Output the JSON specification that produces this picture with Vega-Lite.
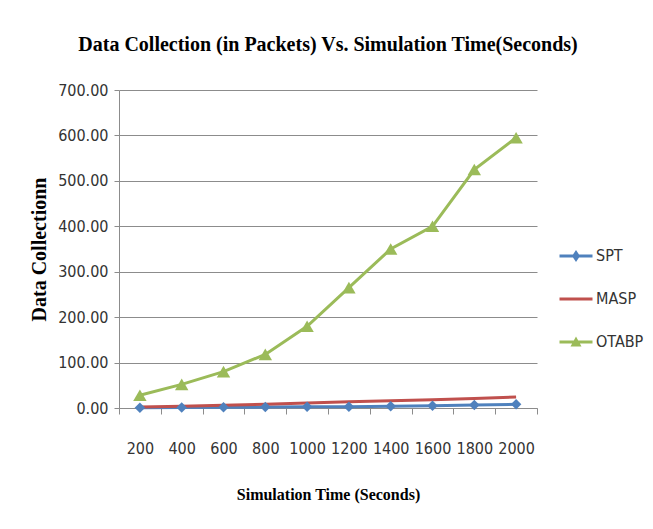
{
  "$schema": "https://vega.github.io/schema/vega-lite/v6.json",
  "width": 418,
  "height": 318,
  "autosize": "none",
  "padding": {"left": 119, "top": 90, "right": 116, "bottom": 121},
  "background": "white",
  "title": {
    "text": "Data Collection (in Packets) Vs. Simulation Time(Seconds)",
    "font": "Liberation Serif",
    "fontSize": 20,
    "fontWeight": "bold",
    "color": "black",
    "anchor": "middle",
    "offset": 27
  },
  "data": {
    "values": [
      {"time": 200, "series": "SPT", "value": 0.5},
      {"time": 400, "series": "SPT", "value": 1},
      {"time": 600, "series": "SPT", "value": 1.5},
      {"time": 800, "series": "SPT", "value": 2},
      {"time": 1000, "series": "SPT", "value": 2.5},
      {"time": 1200, "series": "SPT", "value": 3},
      {"time": 1400, "series": "SPT", "value": 4},
      {"time": 1600, "series": "SPT", "value": 5},
      {"time": 1800, "series": "SPT", "value": 6.5},
      {"time": 2000, "series": "SPT", "value": 8},
      {"time": 200, "series": "MASP", "value": 2},
      {"time": 400, "series": "MASP", "value": 4},
      {"time": 600, "series": "MASP", "value": 6},
      {"time": 800, "series": "MASP", "value": 8.5},
      {"time": 1000, "series": "MASP", "value": 11},
      {"time": 1200, "series": "MASP", "value": 14},
      {"time": 1400, "series": "MASP", "value": 16},
      {"time": 1600, "series": "MASP", "value": 18},
      {"time": 1800, "series": "MASP", "value": 21},
      {"time": 2000, "series": "MASP", "value": 24},
      {"time": 200, "series": "OTABP", "value": 28},
      {"time": 400, "series": "OTABP", "value": 52},
      {"time": 600, "series": "OTABP", "value": 80},
      {"time": 800, "series": "OTABP", "value": 118},
      {"time": 1000, "series": "OTABP", "value": 180},
      {"time": 1200, "series": "OTABP", "value": 265},
      {"time": 1400, "series": "OTABP", "value": 350},
      {"time": 1600, "series": "OTABP", "value": 400},
      {"time": 1800, "series": "OTABP", "value": 525},
      {"time": 2000, "series": "OTABP", "value": 595}
    ]
  },
  "config": {
    "view": {"stroke": null},
    "axis": {
      "labelFont": "DejaVu Sans Condensed, Liberation Sans Narrow, sans-serif",
      "labelFontSize": 16,
      "labelColor": "#333333",
      "domainColor": "#8c8c8c",
      "tickColor": "#8c8c8c",
      "gridColor": "#8c8c8c",
      "titleFont": "Liberation Serif",
      "titleFontWeight": "bold",
      "titleFontSize": 16,
      "titleColor": "black"
    },
    "legend": {
      "orient": "none",
      "legendX": 447,
      "legendY": 156,
      "title": null,
      "labelFont": "DejaVu Sans Condensed, Liberation Sans Narrow, sans-serif",
      "labelFontSize": 16,
      "labelColor": "#333333",
      "symbolSize": 400,
      "symbolStrokeWidth": 0,
      "rowPadding": 25,
      "labelOffset": 10
    }
  },
  "encoding": {
    "x": {
      "field": "time",
      "type": "ordinal",
      "bandPosition": 0.5,
      "scale": {"type": "band", "paddingInner": 0, "paddingOuter": 0},
      "axis": {
        "title": "Simulation Time (Seconds)",
        "labelAngle": 0,
        "tickBand": "extent",
        "tickSize": 6,
        "labelPadding": 26,
        "titlePadding": 30,
        "grid": false
      }
    },
    "y": {
      "field": "value",
      "type": "quantitative",
      "scale": {"domain": [0, 700]},
      "axis": {
        "title": "Data Collectionn",
        "values": [0, 100, 200, 300, 400, 500, 600, 700],
        "format": ".2f",
        "tickSize": 5,
        "labelPadding": 6,
        "titlePadding": 8,
        "titleFontSize": 20,
        "grid": true
      }
    },
    "color": {
      "field": "series",
      "type": "nominal",
      "scale": {
        "domain": ["SPT", "MASP", "OTABP"],
        "range": ["#4F81BD", "#C0504D", "#9BBB59"]
      }
    }
  },
  "layer": [
    {
      "mark": {"type": "line", "strokeWidth": 3}
    },
    {
      "transform": [{"filter": "datum.series === 'SPT'"}],
      "mark": {"type": "point", "shape": "diamond", "filled": true, "size": 110, "opacity": 1}
    },
    {
      "transform": [{"filter": "datum.series === 'OTABP'"}],
      "mark": {"type": "point", "shape": "triangle-up", "filled": true, "size": 180, "opacity": 1}
    },
    {
      "transform": [{"filter": "false"}],
      "mark": {"type": "point", "filled": true, "opacity": 1},
      "encoding": {
        "shape": {
          "field": "series",
          "type": "nominal",
          "scale": {
            "domain": ["SPT", "MASP", "OTABP"],
            "range": [
              "M-1.65,-0.15H1.65V0.15H-1.65Z M0,-0.6L0.4,0L0,0.6L-0.4,0Z",
              "M-1.65,-0.15H1.65V0.15H-1.65Z",
              "M-1.65,-0.15H1.65V0.15H-1.65Z M0,-0.55L0.55,0.45L-0.55,0.45Z"
            ]
          }
        }
      }
    }
  ]
}
